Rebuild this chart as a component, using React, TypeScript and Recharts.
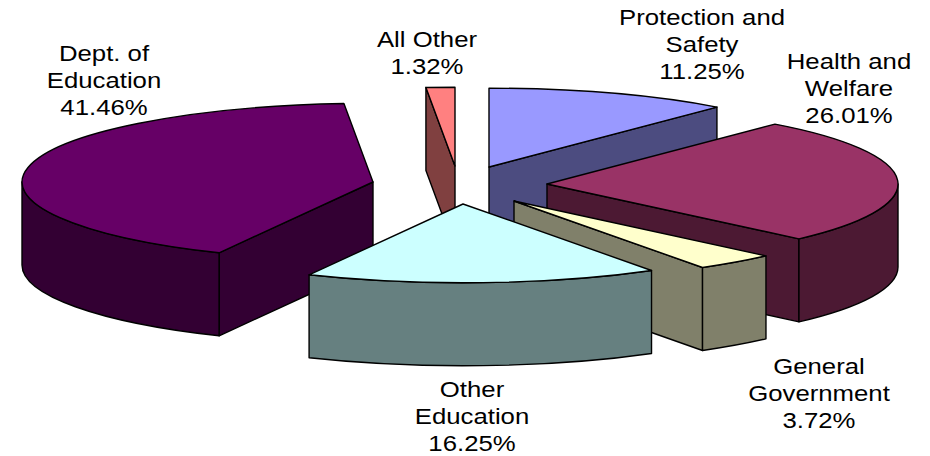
import { Pie, PieChart } from "recharts"

const categories = ["Protection and Safety", "Health and Welfare", "General Government", "Other Education", "Dept. of Education", "All Other"]
const shares = [11.25, 26.01, 3.72, 16.25, 41.46, 1.32]
const labelLines = [
  ["Protection and", "Safety"],
  ["Health and", "Welfare"],
  ["General", "Government"],
  ["Other", "Education"],
  ["Dept. of", "Education"],
  ["All Other"],
]

const topColors = ["#9999ff", "#993366", "#ffffcc", "#ccffff", "#660066", "#ff8080"]
const sideColors = ["#4c4c80", "#4c1933", "#80806a", "#668080", "#330033", "#804040"]

// how far each slice is pulled out of the pie, in px
const explodeX = [24, 82, 49, -2, -92, -10]
const explodeY = [-15, 2, 19, 22, 0, -16]

// label anchor: centre x and baseline of the first line
const labelX = [702, 849, 819, 472, 104, 427]
const labelY = [25, 69, 374, 397, 61, 47]

// back to front
const paintOrder = [5, 0, 4, 1, 2, 3]

const data = categories.map((name, i) => ({ name, value: shares[i] }))

const CX = 465
const CY = 182
const RADIUS = 351
const TILT = 0.2245
const DEPTH = 83
const LINE_HEIGHT = 27

function Slice(props: any) {
  const { cx, cy, outerRadius, startAngle, endAngle, index } = props
  const ax = cx + explodeX[index]
  const ay = cy + explodeY[index]
  const rx = outerRadius
  const ry = outerRadius * TILT

  // angles clockwise from 12 o'clock
  const from = 90 - startAngle
  const to = 90 - endAngle
  const at = (deg: number, drop = 0) => {
    const rad = (deg * Math.PI) / 180
    return `${ax + rx * Math.sin(rad)} ${ay - ry * Math.cos(rad) + drop}`
  }
  const arc = (a: number, b: number, sweep: number) =>
    `A ${rx} ${ry} 0 ${Math.abs(b - a) > 180 ? 1 : 0} ${sweep} ${at(b)}`
  const arcLow = (a: number, b: number, sweep: number) =>
    `A ${rx} ${ry} 0 ${Math.abs(b - a) > 180 ? 1 : 0} ${sweep} ${at(b, DEPTH)}`

  const cutWall = (deg: number) =>
    `M ${ax} ${ay} L ${at(deg)} L ${at(deg, DEPTH)} L ${ax} ${ay + DEPTH} Z`

  const rimFrom = Math.max(from, 90)
  const rimTo = Math.min(to, 270)
  const sinFrom = Math.sin((from * Math.PI) / 180)
  const sinTo = Math.sin((to * Math.PI) / 180)

  const common = { stroke: "#000", strokeWidth: 1.4, strokeLinejoin: "round" as const }

  return (
    <g>
      {sinFrom < -0.001 && <path d={cutWall(from)} fill={sideColors[index]} {...common} />}
      {sinTo > 0.001 && <path d={cutWall(to)} fill={sideColors[index]} {...common} />}
      {rimTo > rimFrom && (
        <path
          d={`M ${at(rimFrom)} ${arc(rimFrom, rimTo, 1)} L ${at(rimTo, DEPTH)} ${arcLow(rimTo, rimFrom, 0)} Z`}
          fill={sideColors[index]}
          {...common}
        />
      )}
      <path
        d={`M ${ax} ${ay} L ${at(from)} ${arc(from, to, 1)} Z`}
        fill={topColors[index]}
        {...common}
      />
    </g>
  )
}

function SliceLabel(props: any) {
  const { index, value } = props
  const lines = [...labelLines[index], `${value.toFixed(2)}%`]
  return (
    <g>
      {lines.map((line, i) => (
        <text
          key={line}
          transform={`translate(${labelX[index]} ${labelY[index] + i * LINE_HEIGHT}) scale(1.12 1)`}
          textAnchor="middle"
          fontFamily="Liberation Sans"
          fontSize={23}
          fill="#000"
        >
          {line}
        </text>
      ))}
    </g>
  )
}

export default function App() {
  return (
    <div style={{ position: "absolute", left: 0, top: 0, width: 930, height: 456, background: "#fff" }}>
      <PieChart width={930} height={456} margin={{ top: 0, right: 0, bottom: 0, left: 0 }}>
        {paintOrder.map((layer, n) => (
          <Pie
            key={layer}
            data={data}
            dataKey="value"
            nameKey="name"
            cx={CX}
            cy={CY}
            innerRadius={0}
            outerRadius={RADIUS}
            startAngle={90}
            endAngle={-270}
            paddingAngle={0}
            stroke="none"
            isAnimationActive={false}
            labelLine={false}
            label={n === paintOrder.length - 1 ? SliceLabel : false}
            shape={(props: any) => (props.index === layer ? <Slice {...props} /> : <g />)}
          />
        ))}
      </PieChart>
    </div>
  )
}
